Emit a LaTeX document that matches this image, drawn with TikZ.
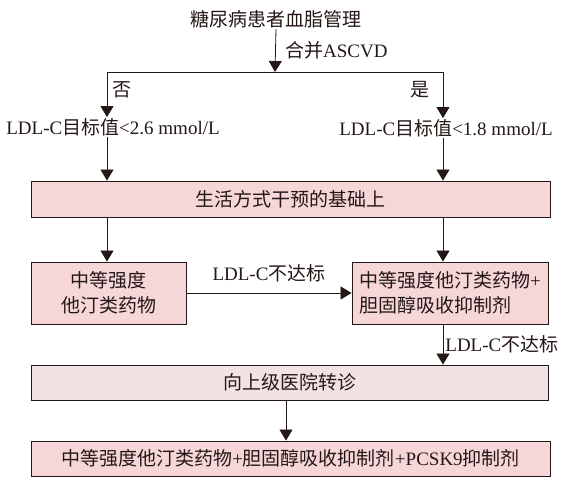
\documentclass[tikz,border=0pt]{standalone}
\usepackage{fontspec}
\setmainfont{Liberation Serif}
\newfontfamily\cjk{Noto Sans CJK SC}
\newcommand{\zh}[1]{{\cjk #1}}
\usetikzlibrary{arrows.meta,positioning}

\definecolor{inkdark}{RGB}{35,24,21}
\definecolor{boxpink}{RGB}{246,214,217}
\definecolor{boxpale}{RGB}{240,227,225}

\tikzset{
  txt/.style={inner sep=1pt,font=\fontsize{19}{25}\selectfont,text=inkdark},
  box/.style={draw=inkdark,line width=0.9pt,fill=boxpink,inner sep=3pt,
    font=\fontsize{19}{25}\selectfont,text=inkdark},
  arr/.style={draw=inkdark,line width=0.8pt,-{Triangle[length=11pt,width=13pt]}},
  ln/.style={draw=inkdark,line width=0.8pt},
}

\begin{document}
\begin{tikzpicture}[x=1pt,y=-1pt]
  \useasboundingbox (0,0) rectangle (562,484);

  % Nodes

  \node[txt] (title) at (276,19) {\zh{糖尿病患者血脂管理}};
  \coordinate (br) at (275,72);
  \coordinate (brL) at (107,72);
  \coordinate (brR) at (443,72);

  \node[txt,anchor=west] (ascvd) at (284,50) {\zh{合并}ASCVD};
  \node[txt] (no) at (122,90) {\zh{否}};
  \node[txt] (yes) at (420,90) {\zh{是}};

  \node[txt] (ldlA) at (113,127) {LDL-C\zh{目标值}<2.6 mmol/L};
  \node[txt] (ldlB) at (446,128) {LDL-C\zh{目标值}<1.8 mmol/L};

  \node[box,minimum width=519pt,minimum height=36pt] (base) at (290.5,199)
    {\zh{生活方式干预的基础上}};

  \node[box,minimum width=155pt,minimum height=62pt,align=center] (medA) at (108.5,293)
    {\zh{中等强度}\\\zh{他汀类药物}};
  \node[box,minimum width=196pt,minimum height=62pt,align=left] (medB) at (450,293)
    {\zh{中等强度他汀类药物}+\\\zh{胆固醇吸收抑制剂}};

  \node[box,fill=boxpale,minimum width=517pt,minimum height=35pt] (refer) at (289.5,382.5)
    {\zh{向上级医院转诊}};

  \node[box,minimum width=519pt,minimum height=35pt] (final) at (290.5,458.5)
    {\zh{中等强度他汀类药物}+\zh{胆固醇吸收抑制剂}+PCSK9\zh{抑制剂}};

  % Edges

  \draw[arr] (title.south) -- (br);
  \draw[ln] (brL) -- (brR);
  \draw[arr] (brL) -- (brL |- ldlA.north);
  \draw[arr] (brR) -- (brR |- ldlB.north);

  \draw[arr] (brL |- ldlA.south) -- (brL |- base.north);
  \draw[arr] (brR |- ldlB.south) -- (brR |- base.north);

  \draw[arr] (brL |- base.south) -- (brL |- medA.north);
  \draw[arr] (brR |- base.south) -- (brR |- medB.north);

  \draw[arr] (medA.east) -- node[txt,above=10pt] {LDL-C\zh{不达标}} (medB.west);
  \draw[arr] (brR |- medB.south) -- node[txt,right=1pt] {LDL-C\zh{不达标}} (brR |- refer.north);

  \draw[arr] ([xshift=-3.5pt]refer.south) -- ([xshift=-3.5pt]refer.south |- final.north);

\end{tikzpicture}
\end{document}
